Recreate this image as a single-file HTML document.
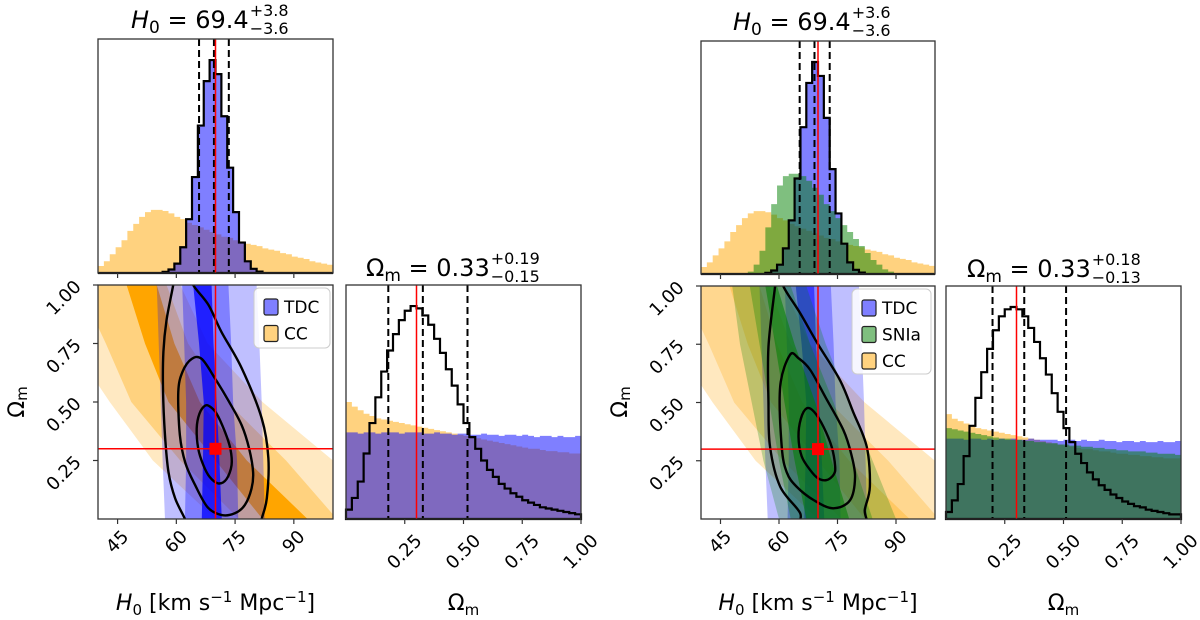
<!DOCTYPE html>
<html><head><meta charset="utf-8"><style>
html,body{margin:0;padding:0;background:#fff;}
svg{display:block;font-family:"DejaVu Sans","Liberation Sans",sans-serif;}
</style></head><body>
<svg id="fig" xmlns="http://www.w3.org/2000/svg" width="1200" height="620" viewBox="0 0 1200 620">
<defs>
<clipPath id="clipL"><rect x="98" y="285" width="235" height="234"/></clipPath>
<clipPath id="clipR"><rect x="701" y="286" width="234" height="233"/></clipPath>
</defs>
</svg>
<script>
// ---------- data ----------
const H0_BIN_START = 40, H0_BIN_W = 1.5;
const OM_BIN_START = 0, OM_BIN_W = 0.025;
const H0_TICKS = [45, 60, 75, 90];
const H0_TICK_LABELS = ["45", "60", "75", "90"];
const OM_TICKS = [0.25, 0.5, 0.75, 1.0];
const OM_TICK_LABELS = ["0.25", "0.50", "0.75", "1.00"];
const TRUTH_H0 = 70, TRUTH_OM = 0.3;

// H0 histograms (fraction of panel height)
const TDC_H0 = [0,0,0,0,0,0,0,0,0,0,0,0.005,0.015,0.04,0.11,0.23,0.41,0.63,0.82,0.91,0.85,0.67,0.45,0.26,0.13,0.05,0.018,0.006,0,0,0,0,0,0,0,0,0,0,0,0];
const CC_H0 = [0.03,0.05,0.08,0.11,0.14,0.18,0.21,0.24,0.26,0.27,0.27,0.265,0.255,0.24,0.23,0.215,0.205,0.195,0.185,0.175,0.165,0.155,0.15,0.14,0.135,0.125,0.12,0.115,0.105,0.1,0.095,0.085,0.08,0.07,0.065,0.06,0.05,0.045,0.04,0.035];
const SN_H0 = [0,0,0,0,0,0,0,0,0.01,0.04,0.1,0.2,0.3,0.38,0.42,0.43,0.43,0.42,0.4,0.37,0.34,0.3,0.27,0.24,0.21,0.18,0.15,0.12,0.09,0.06,0.04,0.02,0.01,0,0,0,0,0,0,0];

// Omega_m histograms (fraction of panel height)
const JOINT_OM_L = [0.04,0.09,0.16,0.28,0.41,0.52,0.63,0.72,0.79,0.85,0.89,0.91,0.90,0.87,0.83,0.77,0.71,0.64,0.57,0.49,0.41,0.35,0.30,0.25,0.21,0.18,0.15,0.13,0.11,0.095,0.08,0.07,0.06,0.05,0.045,0.04,0.035,0.03,0.025,0.02];
const JOINT_OM_R = [0.03,0.08,0.15,0.27,0.40,0.52,0.63,0.73,0.81,0.87,0.90,0.91,0.90,0.87,0.82,0.76,0.69,0.62,0.54,0.46,0.39,0.33,0.28,0.24,0.20,0.17,0.145,0.125,0.105,0.09,0.075,0.065,0.055,0.05,0.04,0.035,0.03,0.025,0.02,0.02];
const TDC_OM_L = [0.37,0.37,0.365,0.37,0.37,0.365,0.37,0.37,0.37,0.365,0.37,0.37,0.37,0.365,0.365,0.37,0.365,0.365,0.36,0.365,0.365,0.36,0.36,0.365,0.36,0.36,0.355,0.36,0.36,0.355,0.36,0.355,0.35,0.355,0.355,0.35,0.355,0.35,0.35,0.355];
const CC_OM_L = [0.50,0.48,0.465,0.45,0.44,0.43,0.425,0.42,0.415,0.41,0.405,0.40,0.395,0.39,0.385,0.38,0.375,0.37,0.365,0.36,0.355,0.35,0.345,0.34,0.335,0.33,0.325,0.32,0.315,0.31,0.305,0.30,0.30,0.295,0.29,0.29,0.285,0.285,0.28,0.28];
const TDC_OM_R = [0.345,0.345,0.345,0.34,0.345,0.345,0.34,0.345,0.34,0.345,0.34,0.345,0.34,0.34,0.345,0.34,0.34,0.34,0.34,0.335,0.34,0.34,0.335,0.34,0.335,0.335,0.34,0.335,0.335,0.33,0.335,0.335,0.33,0.335,0.33,0.33,0.335,0.33,0.33,0.335];
const SN_OM_R = [0.39,0.385,0.38,0.375,0.37,0.365,0.36,0.355,0.35,0.345,0.345,0.34,0.34,0.335,0.335,0.33,0.33,0.325,0.325,0.32,0.32,0.315,0.315,0.31,0.31,0.305,0.305,0.30,0.30,0.295,0.295,0.29,0.29,0.29,0.285,0.285,0.28,0.28,0.28,0.275];
const CC_OM_R = [0.45,0.43,0.42,0.41,0.40,0.39,0.385,0.38,0.375,0.37,0.365,0.36,0.355,0.35,0.345,0.34,0.335,0.33,0.325,0.32,0.315,0.31,0.305,0.30,0.30,0.295,0.29,0.29,0.285,0.28,0.28,0.275,0.275,0.27,0.27,0.265,0.265,0.26,0.26,0.26];

// credible-interval markers
const Q_H0_L = [65.8, 69.6, 73.4];
const Q_OM_L = [0.18, 0.327, 0.517];
const Q_H0_R = [65.3, 69.1, 73.0];
const Q_OM_R = [0.198, 0.333, 0.511];

// 2D band boundaries (H0 value at Omega levels)
const BAND_OM = [0, 0.25, 0.5, 0.75, 1.0];
const CC_1S_L = [82, 70, 58, 52, 47.3], CC_1S_R = [93.5, 78, 66, 59.5, 55];
const CC_2S_L = [76, 61, 48.5, 42, 35], CC_2S_R = [101, 88, 73, 63, 57.5];
const CC_3S_L = [70, 54, 43, 33, 25], CC_3S_R = [115, 100, 82, 68, 61];
const TDC_1S_L = [66.5, 66.8, 67, 65.8, 64.3], TDC_1S_R = [71.6, 71, 70.3, 69.5, 69];
const TDC_2S_L = [62.2, 62.5, 62.5, 62, 61.5], TDC_2S_R = [75.8, 75.5, 74.5, 74, 73.3];
const TDC_3S_L = [57.1, 56.5, 56, 55.5, 55], TDC_3S_R = [82.6, 82.2, 81.8, 81.2, 80.5];
const SN_1S_L = [67, 64, 61.4, 59, 56.5], SN_1S_R = [78, 73.5, 69.3, 64, 59.5];
const SN_2S_L = [63, 60, 57.5, 55, 52.5], SN_2S_R = [84, 79, 74, 68, 63];
const SN_3S_L = [60, 56, 53, 50, 48], SN_3S_R = [90, 84, 78, 72, 67];

// joint contours (H0, Omega) - left panel
const C1_H0 = [67.3,65.9,65.2,65.6,66.9,68.5,70.7,72.8,74.1,73.8,72.4,70.3,68.6];
const C1_OM = [0.484,0.45,0.387,0.30,0.23,0.18,0.152,0.17,0.23,0.30,0.373,0.45,0.48];
const C2_H0 = [63.9,61.6,60.5,60.9,62.3,64.8,68,71.6,75,77.5,79.2,79.6,78.6,76.7,73.5,69.9,66.5];
const C2_OM = [0.684,0.63,0.544,0.359,0.24,0.145,0.05,0.017,0.025,0.06,0.13,0.2,0.3,0.4,0.5,0.6,0.684];
const C3_H0 = [59.5,59.2,57.5,56.7,56.6,57.1,58,59.7,62.2,63,81.5,81.8,83.1,83.5,81.8,76.7,71.5,68.2,64.3,64];
const C3_OM = [1.05,1,0.85,0.715,0.55,0.359,0.2,0.088,0,-0.05,-0.05,0,0.088,0.26,0.43,0.644,0.8,0.915,1,1.05];
// joint contours - right panel
const D1_H0 = [67.1,65.6,65,65.8,68,70,72.2,74,74.4,73.5,71.4,69];
const D1_OM = [0.475,0.43,0.353,0.27,0.21,0.175,0.167,0.19,0.225,0.31,0.396,0.46];
const D2_H0 = [62.8,60.3,60.7,62,64.5,69,73.9,78.2,79.5,78.5,76.5,72,68,65];
const D2_OM = [0.704,0.568,0.31,0.2,0.139,0.08,0.046,0.08,0.18,0.28,0.382,0.52,0.64,0.69];
const D3_H0 = [59.2,59,57.3,57.3,57.7,60.3,65.4,66,81.5,82,83.3,82.5,79,75.6,70,65.4,61.1,61.5];
const D3_OM = [1.05,1,0.74,0.5,0.31,0.139,0.026,-0.05,-0.05,0.04,0.139,0.31,0.46,0.597,0.75,0.884,1,1.05];

// ---------- drawing ----------
const NS = "http://www.w3.org/2000/svg";
const svg = document.getElementById('fig');
function mk(tag, attrs, parent) {
  const e = document.createElementNS(NS, tag);
  for (const k in attrs) e.setAttribute(k, attrs[k]);
  (parent || svg).appendChild(e);
  return e;
}
function axisX(box, lo, hi) { return v => box.x + (v - lo) / (hi - lo) * box.w; }
function axisY(box, lo, hi) { return v => box.y + box.h - (v - lo) / (hi - lo) * box.h; }

function histPath(vals, start, bw, sx, box) {
  const base = box.y + box.h;
  let d = 'M' + sx(start) + ',' + base;
  vals.forEach((v, i) => {
    const y = base - v * box.h;
    d += ' L' + sx(start + i * bw) + ',' + y + ' L' + sx(start + (i + 1) * bw) + ',' + y;
  });
  d += ' L' + sx(start + vals.length * bw) + ',' + base + ' Z';
  return d;
}
function bandPath(L, R, sx, sy) {
  let d = '';
  BAND_OM.forEach((o, i) => { d += (i ? ' L' : 'M') + sx(L[i]) + ',' + sy(o); });
  for (let i = BAND_OM.length - 1; i >= 0; i--) d += ' L' + sx(R[i]) + ',' + sy(BAND_OM[i]);
  return d + ' Z';
}
function smoothClosed(xs, ys) {
  const n = xs.length; let d = 'M' + xs[0] + ',' + ys[0];
  for (let i = 0; i < n; i++) {
    const p0 = (i - 1 + n) % n, p1 = i, p2 = (i + 1) % n, p3 = (i + 2) % n;
    const c1x = xs[p1] + (xs[p2] - xs[p0]) / 6, c1y = ys[p1] + (ys[p2] - ys[p0]) / 6;
    const c2x = xs[p2] - (xs[p3] - xs[p1]) / 6, c2y = ys[p2] - (ys[p3] - ys[p1]) / 6;
    d += ' C' + c1x + ',' + c1y + ' ' + c2x + ',' + c2y + ' ' + xs[p2] + ',' + ys[p2];
  }
  return d + ' Z';
}
function frame(box, g) {
  const r = mk('rect', {x: box.x, y: box.y, width: box.w, height: box.h, fill: 'none', stroke: '#333', 'stroke-width': 1.3}, g);
  
  
}
function xTicks(box, sx, ticks, labels, g) {
  ticks.forEach((t, i) => {
    const x = sx(t);
    const tk = mk('line', {x1: x, x2: x, y1: box.y + box.h, y2: box.y + box.h + 5, stroke: '#333', 'stroke-width': 1.2}, g);
    
    
    if (labels) {
      const s = labels[i];
      const cy = box.y + box.h + 13 + s.length * 5;
      const tx = mk('text', {x: x, y: cy, 'font-size': 18, 'text-anchor': 'middle', 'dominant-baseline': 'central', transform: 'rotate(-45 ' + x + ' ' + cy + ')', fill: '#000'}, g);
      tx.textContent = s;
      
      
    }
  });
}
function yTicks(box, sy, ticks, labels, g) {
  ticks.forEach((t, i) => {
    const y = sy(t);
    const tk = mk('line', {x1: box.x - 5, x2: box.x, y1: y, y2: y, stroke: '#333', 'stroke-width': 1.2}, g);
    
    
    const cx = box.x - 34, cy = y + 13;
    const tx = mk('text', {x: cx, y: cy, 'font-size': 18, 'text-anchor': 'middle', 'dominant-baseline': 'central', transform: 'rotate(-45 ' + cx + ' ' + cy + ')', fill: '#000'}, g);
    tx.textContent = labels[i];
    
    
  });
}
function vline(x, y1, y2, color, dash, w, g, name) {
  const l = mk('line', {x1: x, x2: x, y1: y1, y2: y2, stroke: color, 'stroke-width': w}, g);
  if (dash) l.setAttribute('stroke-dasharray', dash);
  
  
}
function title(xStart, base, main, sup, sub, isH, g) {
  const t = mk('text', {x: xStart, y: base, 'font-size': 24, fill: '#000'}, g);
  
  
  if (isH) {
    const a = mk('tspan', {'font-style': 'italic'}, t); a.textContent = 'H';
    const b = mk('tspan', {'font-size': 17, dy: 5}, t); b.textContent = '0';
    const c = mk('tspan', {dy: -5}, t); c.textContent = ' = ' + main;
  } else {
    const a = mk('tspan', {}, t); a.textContent = 'Ω';
    const b = mk('tspan', {'font-size': 17, dy: 5}, t); b.textContent = 'm';
    const c = mk('tspan', {dy: -5}, t); c.textContent = ' = ' + main;
  }
  const w = t.getComputedTextLength();
  const s1 = mk('text', {x: xStart + w + 1, y: base - 12, 'font-size': 16, fill: '#000'}, g);
  s1.textContent = sup;
  
  
  const s2 = mk('text', {x: xStart + w + 1, y: base + 6, 'font-size': 16, fill: '#000'}, g);
  s2.textContent = sub;
  
  
}

const BLUE = '#0000ff', ORANGE = '#ffa500', GREEN = '#008000';

function drawPanel(cfg) {
  const g = mk('g', {});
  
  

  // ---- top H0 histogram
  const tb = cfg.top, sxT = axisX(tb, 40, 100);
  const gh = mk('g', {}, g);
  
  
  const hs = [[CC_H0, ORANGE, 'cc-h0-hist'], [TDC_H0, BLUE, 'tdc-h0-hist']];
  if (cfg.sn) hs.push([SN_H0, GREEN, 'snia-h0-hist']);
  hs.forEach(h => {
    const p = mk('path', {d: histPath(h[0], H0_BIN_START, H0_BIN_W, sxT, tb), fill: h[1], 'fill-opacity': 0.5, stroke: 'none'}, gh);
    
    
  });
  const bs = mk('path', {d: histPath(TDC_H0, H0_BIN_START, H0_BIN_W, sxT, tb), fill: 'none', stroke: '#000', 'stroke-width': 2.2}, gh);
  
  
  cfg.qh.forEach(q => vline(sxT(q), tb.y, tb.y + tb.h, '#000', '7,4', 2, gh, 'quantile-line'));
  vline(sxT(TRUTH_H0), tb.y, tb.y + tb.h, '#ff0000', null, 1.5, gh, 'truth-line');
  frame(tb, gh);
  xTicks(tb, sxT, H0_TICKS, null, gh);

  // ---- 2D panel
  const b2 = cfg.mid, sx2 = axisX(b2, 40, 100), sy2 = axisY(b2, 0, 1);
  const g2 = mk('g', {'clip-path': 'url(#' + cfg.clip + ')'}, g);
  
  
  const ccCols = cfg.sn ? [[ORANGE, 0.25], [ORANGE, 0.25], [ORANGE, 0.3]] : [['#ffe9c2', 1], ['#ffd27f', 1], ['#ffa500', 1]];
  [[CC_3S_L, CC_3S_R], [CC_2S_L, CC_2S_R], [CC_1S_L, CC_1S_R]].forEach((b, i) => {
    const p = mk('path', {d: bandPath(b[0], b[1], sx2, sy2), fill: ccCols[i][0], 'fill-opacity': ccCols[i][1]}, g2);
    
    
  });
  const tdcOp = cfg.sn ? [0.25, 0.3, 0.55] : [0.25, 0.33, 0.75];
  [[TDC_3S_L, TDC_3S_R], [TDC_2S_L, TDC_2S_R], [TDC_1S_L, TDC_1S_R]].forEach((b, i) => {
    const p = mk('path', {d: bandPath(b[0], b[1], sx2, sy2), fill: BLUE, 'fill-opacity': tdcOp[i]}, g2);
    
    
  });
  if (cfg.sn) {
    [[SN_3S_L, SN_3S_R, 0.25], [SN_2S_L, SN_2S_R, 0.3], [SN_1S_L, SN_1S_R, 0.55]].forEach((b, i) => {
      const p = mk('path', {d: bandPath(b[0], b[1], sx2, sy2), fill: GREEN, 'fill-opacity': b[2]}, g2);
      
      
    });
  }
  cfg.contours.forEach((c, i) => {
    const p = mk('path', {d: smoothClosed(c[0].map(sx2), c[1].map(sy2)), fill: 'none', stroke: '#000', 'stroke-width': 2.4}, g2);
    
    
  });
  vline(sx2(TRUTH_H0), b2.y, b2.y + b2.h, '#ff0000', null, 1.5, g2, 'truth-h0-line');
  const hl = mk('line', {x1: b2.x, x2: b2.x + b2.w, y1: sy2(TRUTH_OM), y2: sy2(TRUTH_OM), stroke: '#ff0000', 'stroke-width': 1.5}, g2);
  
  
  const mkr = mk('rect', {x: sx2(TRUTH_H0) - 6, y: sy2(TRUTH_OM) - 6, width: 12, height: 12, fill: '#ff0000'}, g2);
  
  
  frame(b2, g);
  xTicks(b2, sx2, H0_TICKS, H0_TICK_LABELS, g);
  yTicks(b2, sy2, OM_TICKS, OM_TICK_LABELS, g);

  // legend
  const lg = mk('g', {}, g);
  
  
  const L = cfg.legend;
  const lr = mk('rect', {x: L.x, y: L.y, width: L.w, height: L.h, rx: 5, fill: '#fff', 'fill-opacity': 0.85, stroke: '#ccc'}, lg);
  
  
  L.items.forEach((it, i) => {
    const y = L.y + 11 + i * 26.5;
    const r = mk('rect', {x: L.x + 10, y: y, width: 14, height: 16, rx: 2, fill: it[1], 'fill-opacity': 0.5, stroke: '#222', 'stroke-width': 1.2}, lg);
    
    
    const t = mk('text', {x: L.x + 30, y: y + 14, 'font-size': 17, fill: '#000'}, lg);
    t.textContent = it[0];
    
    
  });

  // ---- Omega histogram
  const ob = cfg.om, sxO = axisX(ob, 0, 1);
  const go = mk('g', {}, g);
  
  
  cfg.omHists.forEach(h => {
    const p = mk('path', {d: histPath(h[0], OM_BIN_START, OM_BIN_W, sxO, ob), fill: h[1], 'fill-opacity': 0.5}, go);
    
    
  });
  const os = mk('path', {d: histPath(cfg.joint, OM_BIN_START, OM_BIN_W, sxO, ob), fill: 'none', stroke: '#000', 'stroke-width': 2.2}, go);
  
  
  cfg.qo.forEach(q => vline(sxO(q), ob.y, ob.y + ob.h, '#000', '7,4', 2, go, 'quantile-line'));
  vline(sxO(TRUTH_OM), ob.y, ob.y + ob.h, '#ff0000', null, 1.5, go, 'truth-line');
  frame(ob, go);
  xTicks(ob, sxO, OM_TICKS, OM_TICK_LABELS, go);

  // titles & labels
  title(cfg.tH.x, cfg.tH.y, '69.4', cfg.tH.sup, cfg.tH.sub, true, g);
  title(cfg.tO.x, cfg.tO.y, '0.33', cfg.tO.sup, cfg.tO.sub, false, g);
  const xl = mk('text', {x: b2.x + b2.w / 2, y: 610, 'font-size': 22, 'text-anchor': 'middle', fill: '#000'}, g);
  
  
  const a1 = mk('tspan', {'font-style': 'italic'}, xl); a1.textContent = 'H';
  const a2 = mk('tspan', {'font-size': 15, dy: 5}, xl); a2.textContent = '0';
  const a3 = mk('tspan', {dy: -5}, xl); a3.textContent = ' [km s';
  const a4 = mk('tspan', {'font-size': 15, dy: -8}, xl); a4.textContent = '−1';
  const a5 = mk('tspan', {dy: 8}, xl); a5.textContent = ' Mpc';
  const a6 = mk('tspan', {'font-size': 15, dy: -8}, xl); a6.textContent = '−1';
  const a7 = mk('tspan', {dy: 8}, xl); a7.textContent = ']';
  const ol = mk('text', {x: ob.x + ob.w / 2, y: 610, 'font-size': 22, 'text-anchor': 'middle', fill: '#000'}, g);
  
  
  const o1 = mk('tspan', {}, ol); o1.textContent = 'Ω';
  const o2 = mk('tspan', {'font-size': 15, dy: 5}, ol); o2.textContent = 'm';
  const yl = mk('text', {x: cfg.ylab, y: 402, 'font-size': 22, 'text-anchor': 'middle', 'dominant-baseline': 'central', transform: 'rotate(-90 ' + cfg.ylab + ' 402)', fill: '#000'}, g);
  
  
  const y1 = mk('tspan', {}, yl); y1.textContent = 'Ω';
  const y2 = mk('tspan', {'font-size': 15, dy: 5}, yl); y2.textContent = 'm';
}

drawPanel({
  name: 'left-corner-plot-tdc-cc', clip: 'clipL', sn: false,
  top: {x: 98, y: 39, w: 235, h: 234}, mid: {x: 98, y: 285, w: 235, h: 234}, om: {x: 346, y: 285, w: 235, h: 234},
  qh: Q_H0_L, qo: Q_OM_L, joint: JOINT_OM_L,
  contours: [[C1_H0, C1_OM], [C2_H0, C2_OM], [C3_H0, C3_OM]],
  omHists: [[CC_OM_L, ORANGE, 'cc-omega-hist'], [TDC_OM_L, BLUE, 'tdc-omega-hist']],
  legend: {x: 254, y: 288, w: 76, h: 60, items: [['TDC', BLUE], ['CC', ORANGE]]},
  tH: {x: 131, y: 28, sup: '+3.8', sub: '−3.6'}, tO: {x: 366, y: 276, sup: '+0.19', sub: '−0.15'},
  ylab: 17
});
drawPanel({
  name: 'right-corner-plot-tdc-snia-cc', clip: 'clipR', sn: true,
  top: {x: 701, y: 41, w: 234, h: 233}, mid: {x: 701, y: 286, w: 234, h: 233}, om: {x: 946, y: 286, w: 235, h: 233},
  qh: Q_H0_R, qo: Q_OM_R, joint: JOINT_OM_R,
  contours: [[D1_H0, D1_OM], [D2_H0, D2_OM], [D3_H0, D3_OM]],
  omHists: [[CC_OM_R, ORANGE, 'cc-omega-hist'], [TDC_OM_R, BLUE, 'tdc-omega-hist'], [SN_OM_R, GREEN, 'snia-omega-hist']],
  legend: {x: 852, y: 289, w: 79, h: 85, items: [['TDC', BLUE], ['SNIa', GREEN], ['CC', ORANGE]]},
  tH: {x: 733, y: 30, sup: '+3.6', sub: '−3.6'}, tO: {x: 967, y: 277, sup: '+0.18', sub: '−0.13'},
  ylab: 620
});
</script>
</body></html>
